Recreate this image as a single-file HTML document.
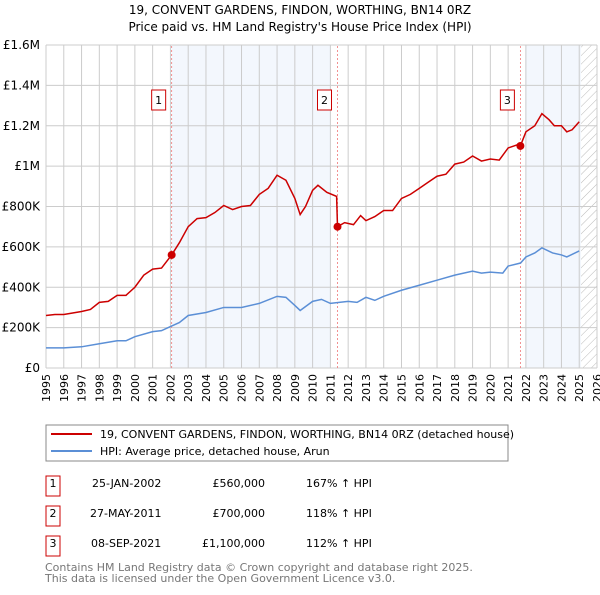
<!DOCTYPE html>
<html><head><meta charset="utf-8"><style>
body{margin:0;background:#fff;font-family:"Liberation Sans","DejaVu Sans",sans-serif;}
svg text{font-family:"DejaVu Sans","Liberation Sans",sans-serif;}
</style></head><body>
<svg id="c" width="600" height="590" viewBox="0 0 600 590" xmlns="http://www.w3.org/2000/svg">
<text x="300" y="14" text-anchor="middle" font-size="12">19, CONVENT GARDENS, FINDON, WORTHING, BN14 0RZ</text>
<text x="300" y="31" text-anchor="middle" font-size="12">Price paid vs. HM Land Registry's House Price Index (HPI)</text>
<defs><pattern id="hatch" width="6" height="6" patternUnits="userSpaceOnUse" patternTransform="rotate(45)"><line x1="0" y1="0" x2="0" y2="6" stroke="#bbb" stroke-width="1"/></pattern></defs>
<g id="plot"></g>
<rect x="46" y="425" width="462" height="36" fill="#fff" stroke="#888"/>
<line x1="51" y1="434" x2="92" y2="434" stroke="#cc0000" stroke-width="2"/>
<text x="100" y="438" font-size="11">19, CONVENT GARDENS, FINDON, WORTHING, BN14 0RZ (detached house)</text>
<line x1="51" y1="451" x2="92" y2="451" stroke="#5b8fd6" stroke-width="2"/>
<text x="100" y="455" font-size="11">HPI: Average price, detached house, Arun</text>
<g font-size="11">
<rect x="46" y="476" width="14" height="20" fill="#fff" stroke="#cc0000"/><text x="53" y="487" text-anchor="middle">1</text>
<text x="92" y="487">25-JAN-2002</text><text x="265" y="487" text-anchor="end">£560,000</text><text x="306" y="487">167% ↑ HPI</text>
<rect x="46" y="506" width="14" height="20" fill="#fff" stroke="#cc0000"/><text x="53" y="517" text-anchor="middle">2</text>
<text x="90" y="517">27-MAY-2011</text><text x="265" y="517" text-anchor="end">£700,000</text><text x="306" y="517">118% ↑ HPI</text>
<rect x="46" y="536" width="14" height="20" fill="#fff" stroke="#cc0000"/><text x="53" y="547" text-anchor="middle">3</text>
<text x="91" y="547">08-SEP-2021</text><text x="265" y="547" text-anchor="end">£1,100,000</text><text x="306" y="547">112% ↑ HPI</text>
</g>
<text x="45" y="571" font-size="11" fill="#777">Contains HM Land Registry data © Crown copyright and database right 2025.</text>
<text x="45" y="582" font-size="11" fill="#777">This data is licensed under the Open Government Licence v3.0.</text>
</svg>
<script>
const years=[1995,1996,1997,1998,1999,2000,2001,2002,2003,2004,2005,2006,2007,2008,2009,2010,2011,2012,2013,2014,2015,2016,2017,2018,2019,2020,2021,2022,2023,2024,2025,2026];
const yTicks=[0,200000,400000,600000,800000,1000000,1200000,1400000,1600000];
const yTickLabels=["£0","£200K","£400K","£600K","£800K","£1M","£1.2M","£1.4M","£1.6M"];
const redT=[1995,1995.5,1996,1997,1997.5,1998,1998.5,1999,1999.5,2000,2000.5,2001,2001.5,2002.07,2002.5,2003,2003.5,2004,2004.5,2005,2005.5,2006,2006.5,2007,2007.5,2008,2008.5,2009,2009.3,2009.6,2010,2010.3,2010.8,2011.35,2011.4,2011.8,2012.3,2012.7,2013,2013.5,2014,2014.5,2015,2015.5,2016,2016.5,2017,2017.5,2018,2018.5,2019,2019.5,2020,2020.5,2021,2021.5,2021.69,2022,2022.5,2022.9,2023.3,2023.6,2024,2024.3,2024.6,2025];
const redV=[260,265,265,280,290,325,330,360,360,400,460,490,495,560,620,700,740,745,770,805,785,800,805,860,890,955,930,840,760,800,880,905,870,850,700,720,710,755,730,750,780,780,840,860,890,920,950,960,1010,1020,1050,1025,1035,1030,1090,1105,1100,1170,1200,1260,1230,1200,1200,1170,1180,1220];
const blueT=[1995,1996,1997,1998,1999,1999.5,2000,2001,2001.5,2002,2002.5,2003,2004,2005,2006,2007,2008,2008.5,2009,2009.3,2010,2010.5,2011,2012,2012.5,2013,2013.5,2014,2015,2016,2017,2018,2019,2019.5,2020,2020.7,2021,2021.7,2022,2022.5,2022.9,2023.5,2024,2024.3,2025];
const blueV=[100,100,105,120,135,135,155,180,185,205,225,260,275,300,300,320,355,350,310,285,330,340,320,330,325,350,335,355,385,410,435,460,480,470,475,470,505,520,550,570,595,570,560,550,580];
const saleT=[2002.07,2011.4,2021.69];
const saleV=[560,700,1100];
const saleLabels=["1","2","3"];
const X=t=>46+(t-1995)*(551/31);
const Y=v=>368-v*(323/1600000);
const NS="http://www.w3.org/2000/svg";
const g=document.getElementById('plot');
function el(tag,a,p){const e=document.createElementNS(NS,tag);for(const k in a)e.setAttribute(k,a[k]);(p||g).appendChild(e);return e;}
let r;
r=el('rect',{x:X(saleT[0]),y:Y(1600000),width:X(2011)-X(saleT[0]),height:Y(0)-Y(1600000),fill:'#eef3fc',opacity:0.7});


r=el('rect',{x:X(2021.96),y:Y(1600000),width:X(2025.1)-X(2021.96),height:Y(0)-Y(1600000),fill:'#eef3fc',opacity:0.7});


r=el('rect',{x:X(2025.1),y:Y(1600000),width:X(2026)-X(2025.1),height:Y(0)-Y(1600000),fill:'url(#hatch)'});


years.forEach(y=>{const l=el('line',{x1:X(y),x2:X(y),y1:Y(0),y2:Y(1600000),stroke:'#ccc'});


const t=el('text',{x:0,y:0,'font-size':11,'text-anchor':'end',transform:`translate(${X(y)+4},374) rotate(-90)`});
t.textContent=y;

});
yTicks.forEach((v,i)=>{const l=el('line',{x1:X(1995),x2:X(2026),y1:Y(v),y2:Y(v),stroke:'#ccc'});


const t=el('text',{x:40,y:Y(v)+4,'font-size':12,'text-anchor':'end'});
t.textContent=yTickLabels[i];

});
saleT.forEach((t,i)=>{const l=el('line',{x1:X(t),x2:X(t),y1:Y(0),y2:Y(1600000),stroke:'#ee7777','stroke-width':0.8,'stroke-dasharray':'2,2'});


const b=el('rect',{x:X(t)-20,y:90,width:14,height:20,fill:'#fff',stroke:'#cc0000'});


const tx=el('text',{x:X(t)-13,y:104,'font-size':11,'text-anchor':'middle'});
tx.textContent=saleLabels[i];

});
const pb=el('polyline',{points:blueT.map((t,i)=>X(t)+','+Y(blueV[i]*1000)).join(' '),fill:'none',stroke:'#5b8fd6','stroke-width':1.5});


const pr=el('polyline',{points:redT.map((t,i)=>X(t)+','+Y(redV[i]*1000)).join(' '),fill:'none',stroke:'#cc0000','stroke-width':1.5});


saleT.forEach((t,i)=>{const c=el('circle',{cx:X(t),cy:Y(saleV[i]*1000),r:4,fill:'#cc0000'});

});
</script>
</body></html>
